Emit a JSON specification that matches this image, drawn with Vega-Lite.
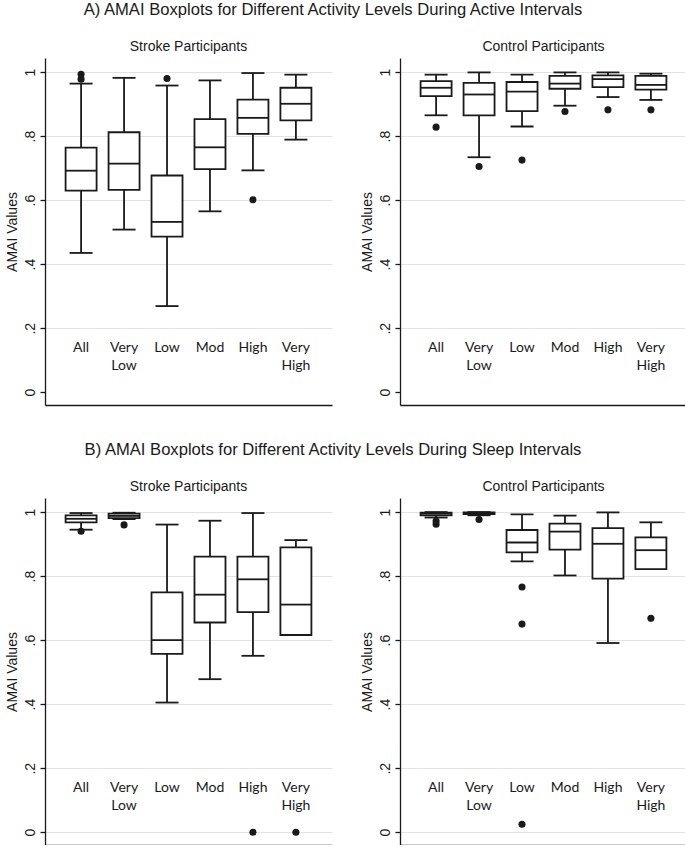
{
  "$schema": "https://vega.github.io/schema/vega-lite/v6.json",
  "padding": {"left": 5, "top": 2, "right": 0, "bottom": 0},
  "background": "white",
  "datasets": {
    "boxes": [
      {"section": "A", "group": "Stroke", "cat": "All", "label": "All", "lower": 0.435, "q1": 0.630, "median": 0.692, "q3": 0.764, "upper": 0.964},
      {"section": "A", "group": "Stroke", "cat": "Very Low", "label": "Very\nLow", "lower": 0.508, "q1": 0.632, "median": 0.714, "q3": 0.812, "upper": 0.982},
      {"section": "A", "group": "Stroke", "cat": "Low", "label": "Low", "lower": 0.269, "q1": 0.486, "median": 0.532, "q3": 0.677, "upper": 0.958},
      {"section": "A", "group": "Stroke", "cat": "Mod", "label": "Mod", "lower": 0.565, "q1": 0.697, "median": 0.765, "q3": 0.853, "upper": 0.974},
      {"section": "A", "group": "Stroke", "cat": "High", "label": "High", "lower": 0.693, "q1": 0.807, "median": 0.857, "q3": 0.914, "upper": 0.997},
      {"section": "A", "group": "Stroke", "cat": "Very High", "label": "Very\nHigh", "lower": 0.789, "q1": 0.849, "median": 0.901, "q3": 0.951, "upper": 0.992},
      {"section": "A", "group": "Control", "cat": "All", "label": "All", "lower": 0.865, "q1": 0.925, "median": 0.951, "q3": 0.972, "upper": 0.992},
      {"section": "A", "group": "Control", "cat": "Very Low", "label": "Very\nLow", "lower": 0.734, "q1": 0.865, "median": 0.930, "q3": 0.966, "upper": 0.999},
      {"section": "A", "group": "Control", "cat": "Low", "label": "Low", "lower": 0.830, "q1": 0.878, "median": 0.939, "q3": 0.969, "upper": 0.992},
      {"section": "A", "group": "Control", "cat": "Mod", "label": "Mod", "lower": 0.895, "q1": 0.948, "median": 0.964, "q3": 0.988, "upper": 0.999},
      {"section": "A", "group": "Control", "cat": "High", "label": "High", "lower": 0.922, "q1": 0.953, "median": 0.978, "q3": 0.990, "upper": 0.999},
      {"section": "A", "group": "Control", "cat": "Very High", "label": "Very\nHigh", "lower": 0.913, "q1": 0.945, "median": 0.960, "q3": 0.988, "upper": 0.995},
      {"section": "B", "group": "Stroke", "cat": "All", "label": "All", "lower": 0.945, "q1": 0.968, "median": 0.979, "q3": 0.990, "upper": 0.997},
      {"section": "B", "group": "Stroke", "cat": "Very Low", "label": "Very\nLow", "lower": 0.978, "q1": 0.981, "median": 0.988, "q3": 0.995, "upper": 0.998},
      {"section": "B", "group": "Stroke", "cat": "Low", "label": "Low", "lower": 0.405, "q1": 0.557, "median": 0.600, "q3": 0.749, "upper": 0.961},
      {"section": "B", "group": "Stroke", "cat": "Mod", "label": "Mod", "lower": 0.478, "q1": 0.655, "median": 0.742, "q3": 0.861, "upper": 0.973},
      {"section": "B", "group": "Stroke", "cat": "High", "label": "High", "lower": 0.551, "q1": 0.6875, "median": 0.790, "q3": 0.861, "upper": 0.997},
      {"section": "B", "group": "Stroke", "cat": "Very High", "label": "Very\nHigh", "lower": 0.616, "q1": 0.616, "median": 0.711, "q3": 0.890, "upper": 0.9125},
      {"section": "B", "group": "Control", "cat": "All", "label": "All", "lower": 0.983, "q1": 0.990, "median": 0.995, "q3": 0.998, "upper": 1.0},
      {"section": "B", "group": "Control", "cat": "Very Low", "label": "Very\nLow", "lower": 0.990, "q1": 0.994, "median": 0.997, "q3": 0.999, "upper": 1.0},
      {"section": "B", "group": "Control", "cat": "Low", "label": "Low", "lower": 0.846, "q1": 0.874, "median": 0.905, "q3": 0.944, "upper": 0.993},
      {"section": "B", "group": "Control", "cat": "Mod", "label": "Mod", "lower": 0.802, "q1": 0.883, "median": 0.939, "q3": 0.964, "upper": 0.989},
      {"section": "B", "group": "Control", "cat": "High", "label": "High", "lower": 0.591, "q1": 0.792, "median": 0.901, "q3": 0.950, "upper": 0.999},
      {"section": "B", "group": "Control", "cat": "Very High", "label": "Very\nHigh", "lower": 0.822, "q1": 0.822, "median": 0.881, "q3": 0.921, "upper": 0.968}
    ],
    "outliers": [
      {"section": "A", "group": "Stroke", "cat": "All", "value": 0.993},
      {"section": "A", "group": "Stroke", "cat": "All", "value": 0.978},
      {"section": "A", "group": "Stroke", "cat": "Low", "value": 0.980},
      {"section": "A", "group": "Stroke", "cat": "High", "value": 0.601},
      {"section": "A", "group": "Control", "cat": "All", "value": 0.828},
      {"section": "A", "group": "Control", "cat": "Very Low", "value": 0.705},
      {"section": "A", "group": "Control", "cat": "Low", "value": 0.725},
      {"section": "A", "group": "Control", "cat": "Mod", "value": 0.877},
      {"section": "A", "group": "Control", "cat": "High", "value": 0.882},
      {"section": "A", "group": "Control", "cat": "Very High", "value": 0.882},
      {"section": "B", "group": "Stroke", "cat": "All", "value": 0.940},
      {"section": "B", "group": "Stroke", "cat": "Very Low", "value": 0.960},
      {"section": "B", "group": "Stroke", "cat": "High", "value": 0.0},
      {"section": "B", "group": "Stroke", "cat": "Very High", "value": 0.0},
      {"section": "B", "group": "Control", "cat": "All", "value": 0.972},
      {"section": "B", "group": "Control", "cat": "All", "value": 0.962},
      {"section": "B", "group": "Control", "cat": "Very Low", "value": 0.977},
      {"section": "B", "group": "Control", "cat": "Low", "value": 0.766},
      {"section": "B", "group": "Control", "cat": "Low", "value": 0.650},
      {"section": "B", "group": "Control", "cat": "Low", "value": 0.025},
      {"section": "B", "group": "Control", "cat": "Very High", "value": 0.668}
    ]
  },
  "vconcat": [
    {
      "title": {"text": "A) AMAI Boxplots for Different Activity Levels During Active Intervals", "fontSize": 16.6, "anchor": "middle", "offset": 21, "dx": -13},
      "spacing": 28,
      "hconcat": [
        {
          "width": 287, "height": 347,
          "title": "Stroke Participants",
          "encoding": {"x": {"field": "cat", "type": "nominal", "scale": {"type": "point", "padding": 0.84, "domain": ["All", "Very Low", "Low", "Mod", "High", "Very High"]}, "axis": {"labels": false, "ticks": false, "title": null, "grid": false}}},
          "layer": [
            {"data": {"name": "boxes"}, "transform": [{"filter": "datum.section=='A' && datum.group=='Stroke'"}], "mark": {"type": "rule", "color": "#1a1a1a", "strokeWidth": 1.8}, "encoding": {"y": {"field": "lower", "type": "quantitative", "title": "AMAI Values", "scale": {"domain": [-0.04, 1.044], "nice": false, "zero": false}, "axis": {"values": [0, 0.2, 0.4, 0.6, 0.8, 1], "labelExpr": "datum.value == 0 ? '0' : datum.value == 1 ? '1' : replace(format(datum.value, '.1f'), '0.', '.')", "gridColor": {"condition": {"test": "datum.value == 0", "value": "transparent"}, "value": "#e2e2e2"}}}, "y2": {"field": "upper"}}},
            {"data": {"name": "boxes"}, "transform": [{"filter": "datum.section=='A' && datum.group=='Stroke'"}], "mark": {"type": "bar", "width": 31, "fill": "white", "stroke": "#1a1a1a", "strokeWidth": 1.8}, "encoding": {"y": {"field": "q1", "type": "quantitative", "title": "AMAI Values"}, "y2": {"field": "q3"}}},
            {"data": {"name": "boxes"}, "transform": [{"filter": "datum.section=='A' && datum.group=='Stroke'"}], "mark": {"type": "tick", "size": 31, "thickness": 1.8, "color": "#1a1a1a", "opacity": 1}, "encoding": {"y": {"field": "median", "type": "quantitative", "title": "AMAI Values"}}},
            {"data": {"name": "boxes"}, "transform": [{"filter": "datum.section=='A' && datum.group=='Stroke'"}], "mark": {"type": "tick", "size": 23, "thickness": 1.8, "color": "#1a1a1a", "opacity": 1}, "encoding": {"y": {"field": "upper", "type": "quantitative", "title": "AMAI Values"}}},
            {"data": {"name": "boxes"}, "transform": [{"filter": "datum.section=='A' && datum.group=='Stroke' && datum.lower < datum.q1"}], "mark": {"type": "tick", "size": 23, "thickness": 1.8, "color": "#1a1a1a", "opacity": 1}, "encoding": {"y": {"field": "lower", "type": "quantitative", "title": "AMAI Values"}}},
            {"data": {"name": "outliers"}, "transform": [{"filter": "datum.section=='A' && datum.group=='Stroke'"}], "mark": {"type": "circle", "size": 50, "color": "#1a1a1a", "opacity": 1}, "encoding": {"y": {"field": "value", "type": "quantitative", "title": "AMAI Values"}}},
            {"data": {"name": "boxes"}, "transform": [{"filter": "datum.section=='A' && datum.group=='Stroke'"}], "mark": {"type": "text", "font": "Lato", "fontSize": 14, "lineBreak": "\n", "lineHeight": 18, "baseline": "alphabetic", "color": "#1a1a1a"}, "encoding": {"y": {"datum": 0.126, "type": "quantitative"}, "text": {"field": "label"}}}
          ]
        },
        {
          "width": 287, "height": 347,
          "title": "Control Participants",
          "encoding": {"x": {"field": "cat", "type": "nominal", "scale": {"type": "point", "padding": 0.84, "domain": ["All", "Very Low", "Low", "Mod", "High", "Very High"]}, "axis": {"labels": false, "ticks": false, "title": null, "grid": false}}},
          "layer": [
            {"data": {"name": "boxes"}, "transform": [{"filter": "datum.section=='A' && datum.group=='Control'"}], "mark": {"type": "rule", "color": "#1a1a1a", "strokeWidth": 1.8}, "encoding": {"y": {"field": "lower", "type": "quantitative", "title": "AMAI Values", "scale": {"domain": [-0.04, 1.044], "nice": false, "zero": false}, "axis": {"values": [0, 0.2, 0.4, 0.6, 0.8, 1], "labelExpr": "datum.value == 0 ? '0' : datum.value == 1 ? '1' : replace(format(datum.value, '.1f'), '0.', '.')", "gridColor": {"condition": {"test": "datum.value == 0", "value": "transparent"}, "value": "#e2e2e2"}}}, "y2": {"field": "upper"}}},
            {"data": {"name": "boxes"}, "transform": [{"filter": "datum.section=='A' && datum.group=='Control'"}], "mark": {"type": "bar", "width": 31, "fill": "white", "stroke": "#1a1a1a", "strokeWidth": 1.8}, "encoding": {"y": {"field": "q1", "type": "quantitative", "title": "AMAI Values"}, "y2": {"field": "q3"}}},
            {"data": {"name": "boxes"}, "transform": [{"filter": "datum.section=='A' && datum.group=='Control'"}], "mark": {"type": "tick", "size": 31, "thickness": 1.8, "color": "#1a1a1a", "opacity": 1}, "encoding": {"y": {"field": "median", "type": "quantitative", "title": "AMAI Values"}}},
            {"data": {"name": "boxes"}, "transform": [{"filter": "datum.section=='A' && datum.group=='Control'"}], "mark": {"type": "tick", "size": 23, "thickness": 1.8, "color": "#1a1a1a", "opacity": 1}, "encoding": {"y": {"field": "upper", "type": "quantitative", "title": "AMAI Values"}}},
            {"data": {"name": "boxes"}, "transform": [{"filter": "datum.section=='A' && datum.group=='Control' && datum.lower < datum.q1"}], "mark": {"type": "tick", "size": 23, "thickness": 1.8, "color": "#1a1a1a", "opacity": 1}, "encoding": {"y": {"field": "lower", "type": "quantitative", "title": "AMAI Values"}}},
            {"data": {"name": "outliers"}, "transform": [{"filter": "datum.section=='A' && datum.group=='Control'"}], "mark": {"type": "circle", "size": 50, "color": "#1a1a1a", "opacity": 1}, "encoding": {"y": {"field": "value", "type": "quantitative", "title": "AMAI Values"}}},
            {"data": {"name": "boxes"}, "transform": [{"filter": "datum.section=='A' && datum.group=='Control'"}], "mark": {"type": "text", "font": "Lato", "fontSize": 14, "lineBreak": "\n", "lineHeight": 18, "baseline": "alphabetic", "color": "#1a1a1a"}, "encoding": {"y": {"datum": 0.126, "type": "quantitative"}, "text": {"field": "label"}}}
          ]
        }
      ]
    },
    {
      "title": {"text": "B) AMAI Boxplots for Different Activity Levels During Sleep Intervals", "fontSize": 16.6, "anchor": "middle", "offset": 21, "dx": -13},
      "spacing": 28,
      "hconcat": [
        {
          "width": 287, "height": 347,
          "title": "Stroke Participants",
          "encoding": {"x": {"field": "cat", "type": "nominal", "scale": {"type": "point", "padding": 0.84, "domain": ["All", "Very Low", "Low", "Mod", "High", "Very High"]}, "axis": {"labels": false, "ticks": false, "title": null, "grid": false}}},
          "layer": [
            {"data": {"name": "boxes"}, "transform": [{"filter": "datum.section=='B' && datum.group=='Stroke'"}], "mark": {"type": "rule", "color": "#1a1a1a", "strokeWidth": 1.8}, "encoding": {"y": {"field": "lower", "type": "quantitative", "title": "AMAI Values", "scale": {"domain": [-0.04, 1.044], "nice": false, "zero": false}, "axis": {"values": [0, 0.2, 0.4, 0.6, 0.8, 1], "labelExpr": "datum.value == 0 ? '0' : datum.value == 1 ? '1' : replace(format(datum.value, '.1f'), '0.', '.')", "gridColor": "#e2e2e2"}}, "y2": {"field": "upper"}}},
            {"data": {"name": "boxes"}, "transform": [{"filter": "datum.section=='B' && datum.group=='Stroke'"}], "mark": {"type": "bar", "width": 31, "fill": "white", "stroke": "#1a1a1a", "strokeWidth": 1.8}, "encoding": {"y": {"field": "q1", "type": "quantitative", "title": "AMAI Values"}, "y2": {"field": "q3"}}},
            {"data": {"name": "boxes"}, "transform": [{"filter": "datum.section=='B' && datum.group=='Stroke'"}], "mark": {"type": "tick", "size": 31, "thickness": 1.8, "color": "#1a1a1a", "opacity": 1}, "encoding": {"y": {"field": "median", "type": "quantitative", "title": "AMAI Values"}}},
            {"data": {"name": "boxes"}, "transform": [{"filter": "datum.section=='B' && datum.group=='Stroke'"}], "mark": {"type": "tick", "size": 23, "thickness": 1.8, "color": "#1a1a1a", "opacity": 1}, "encoding": {"y": {"field": "upper", "type": "quantitative", "title": "AMAI Values"}}},
            {"data": {"name": "boxes"}, "transform": [{"filter": "datum.section=='B' && datum.group=='Stroke' && datum.lower < datum.q1"}], "mark": {"type": "tick", "size": 23, "thickness": 1.8, "color": "#1a1a1a", "opacity": 1}, "encoding": {"y": {"field": "lower", "type": "quantitative", "title": "AMAI Values"}}},
            {"data": {"name": "outliers"}, "transform": [{"filter": "datum.section=='B' && datum.group=='Stroke'"}], "mark": {"type": "circle", "size": 50, "color": "#1a1a1a", "opacity": 1}, "encoding": {"y": {"field": "value", "type": "quantitative", "title": "AMAI Values"}}},
            {"data": {"name": "boxes"}, "transform": [{"filter": "datum.section=='B' && datum.group=='Stroke'"}], "mark": {"type": "text", "font": "Lato", "fontSize": 14, "lineBreak": "\n", "lineHeight": 18, "baseline": "alphabetic", "color": "#1a1a1a"}, "encoding": {"y": {"datum": 0.126, "type": "quantitative"}, "text": {"field": "label"}}}
          ]
        },
        {
          "width": 287, "height": 347,
          "title": "Control Participants",
          "encoding": {"x": {"field": "cat", "type": "nominal", "scale": {"type": "point", "padding": 0.84, "domain": ["All", "Very Low", "Low", "Mod", "High", "Very High"]}, "axis": {"labels": false, "ticks": false, "title": null, "grid": false}}},
          "layer": [
            {"data": {"name": "boxes"}, "transform": [{"filter": "datum.section=='B' && datum.group=='Control'"}], "mark": {"type": "rule", "color": "#1a1a1a", "strokeWidth": 1.8}, "encoding": {"y": {"field": "lower", "type": "quantitative", "title": "AMAI Values", "scale": {"domain": [-0.04, 1.044], "nice": false, "zero": false}, "axis": {"values": [0, 0.2, 0.4, 0.6, 0.8, 1], "labelExpr": "datum.value == 0 ? '0' : datum.value == 1 ? '1' : replace(format(datum.value, '.1f'), '0.', '.')", "gridColor": "#e2e2e2"}}, "y2": {"field": "upper"}}},
            {"data": {"name": "boxes"}, "transform": [{"filter": "datum.section=='B' && datum.group=='Control'"}], "mark": {"type": "bar", "width": 31, "fill": "white", "stroke": "#1a1a1a", "strokeWidth": 1.8}, "encoding": {"y": {"field": "q1", "type": "quantitative", "title": "AMAI Values"}, "y2": {"field": "q3"}}},
            {"data": {"name": "boxes"}, "transform": [{"filter": "datum.section=='B' && datum.group=='Control'"}], "mark": {"type": "tick", "size": 31, "thickness": 1.8, "color": "#1a1a1a", "opacity": 1}, "encoding": {"y": {"field": "median", "type": "quantitative", "title": "AMAI Values"}}},
            {"data": {"name": "boxes"}, "transform": [{"filter": "datum.section=='B' && datum.group=='Control'"}], "mark": {"type": "tick", "size": 23, "thickness": 1.8, "color": "#1a1a1a", "opacity": 1}, "encoding": {"y": {"field": "upper", "type": "quantitative", "title": "AMAI Values"}}},
            {"data": {"name": "boxes"}, "transform": [{"filter": "datum.section=='B' && datum.group=='Control' && datum.lower < datum.q1"}], "mark": {"type": "tick", "size": 23, "thickness": 1.8, "color": "#1a1a1a", "opacity": 1}, "encoding": {"y": {"field": "lower", "type": "quantitative", "title": "AMAI Values"}}},
            {"data": {"name": "outliers"}, "transform": [{"filter": "datum.section=='B' && datum.group=='Control'"}], "mark": {"type": "circle", "size": 50, "color": "#1a1a1a", "opacity": 1}, "encoding": {"y": {"field": "value", "type": "quantitative", "title": "AMAI Values"}}},
            {"data": {"name": "boxes"}, "transform": [{"filter": "datum.section=='B' && datum.group=='Control'"}], "mark": {"type": "text", "font": "Lato", "fontSize": 14, "lineBreak": "\n", "lineHeight": 18, "baseline": "alphabetic", "color": "#1a1a1a"}, "encoding": {"y": {"datum": 0.126, "type": "quantitative"}, "text": {"field": "label"}}}
          ]
        }
      ]
    }
  ],
  "spacing": 37,
  "config": {
    "view": {"stroke": null},
    "font": "Liberation Sans",
    "axis": {"labelFont": "Liberation Sans", "titleFont": "Liberation Sans", "labelColor": "#1a1a1a", "titleColor": "#1a1a1a", "domainColor": "#1a1a1a", "tickColor": "#1a1a1a", "titleFontWeight": "normal", "labelFontSize": 14, "titleFontSize": 14, "domainWidth": 1.3, "tickWidth": 1.3, "gridWidth": 1.2},
    "axisY": {"labelAngle": -90, "tickSize": 5, "labelPadding": 3, "titlePadding": 4},
    "title": {"font": "Liberation Sans", "fontWeight": "normal", "fontSize": 14, "color": "#1a1a1a", "offset": 4}
  }
}
